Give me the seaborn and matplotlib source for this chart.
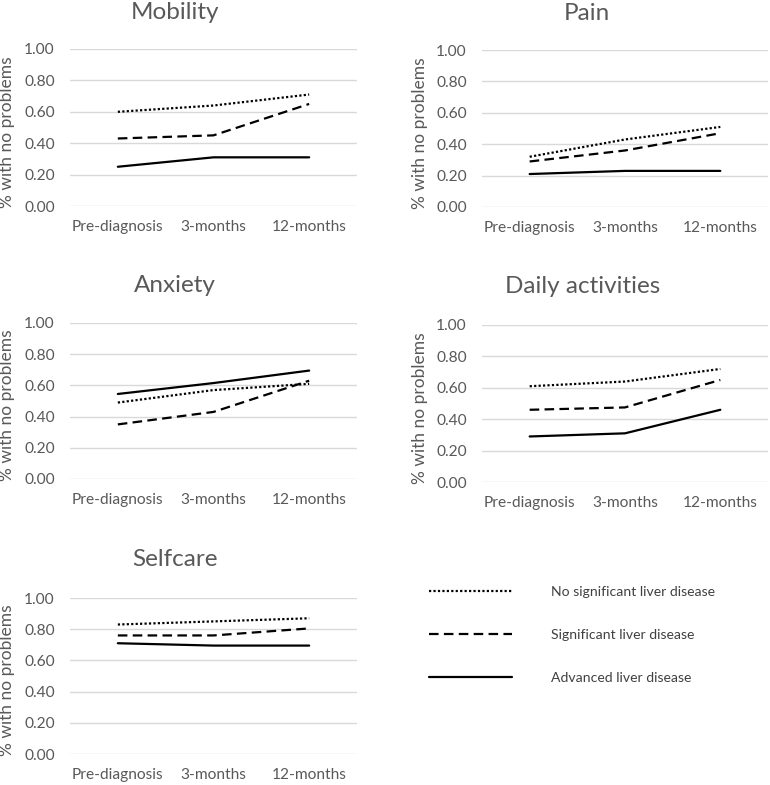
import matplotlib.pyplot as plt
import pandas as pd
import seaborn as sns
from matplotlib.lines import Line2D

# ---------------------------------------------------------------
# data
# ---------------------------------------------------------------
timepoints = ["Pre-diagnosis", "3-months", "12-months"]
groups = ["No significant liver disease", "Significant liver disease", "Advanced liver disease"]

# each domain: [no significant, significant, advanced]
mobility = [[0.60, 0.64, 0.71], [0.43, 0.45, 0.65], [0.25, 0.31, 0.31]]
pain = [[0.32, 0.43, 0.51], [0.29, 0.36, 0.47], [0.21, 0.23, 0.23]]
anxiety = [[0.49, 0.57, 0.61], [0.35, 0.43, 0.63], [0.545, 0.615, 0.695]]
daily = [[0.61, 0.64, 0.72], [0.46, 0.475, 0.65], [0.29, 0.31, 0.46]]
selfcare = [[0.83, 0.85, 0.87], [0.76, 0.76, 0.805], [0.71, 0.695, 0.695]]

yticks = [0.0, 0.2, 0.4, 0.6, 0.8, 1.0]

GRAY = "#595959"
W, H = 770, 785

# panel boxes in pixels: left, right, top, bottom ; title centre x, baseline y ; ylabel right edge x
panels = [
    ("Mobility", mobility, (70, 357, 49, 206), (175, 19), 15),
    ("Pain", pain, (482, 768, 50, 207), (587, 20), 428),
    ("Anxiety", anxiety, (70, 357, 323, 479), (175, 292), 15),
    ("Daily activities", daily, (482, 768, 325, 482), (583, 293), 428),
    ("Selfcare", selfcare, (70, 357, 598, 754), (175, 566), 15),
]

dash_map = {groups[0]: (1, 1), groups[1]: (4.3, 2.4), groups[2]: ""}

sns.set_theme(style="white")
plt.rcParams["font.family"] = ["Lato", "DejaVu Sans"]

fig = plt.figure(figsize=(W / 100, H / 100), dpi=100)


def to_long(values):
    rows = []
    for g, series in zip(groups, values):
        for t, v in zip(timepoints, series):
            rows.append({"Time": t, "Value": v, "Group": g})
    return pd.DataFrame(rows)


for title, values, (l, r, t, b), (tx, ty), lab_x in panels:
    ax = fig.add_axes([l / W, 1 - b / H, (r - l) / W, (b - t) / H])
    sns.lineplot(data=to_long(values), x="Time", y="Value", style="Group",
                 style_order=groups, dashes=dash_map, color="black",
                 linewidth=1.6, sort=False, legend=False, ax=ax)
    ax.set_xlim(-0.5, 2.5)
    ax.set_ylim(0, 1)
    ax.set_yticks(yticks)
    ax.set_yticklabels([f"{v:.2f}" for v in yticks])
    ax.grid(axis="y", color="#d9d9d9", linewidth=1)
    ax.set_axisbelow(True)
    for s in ax.spines.values():
        s.set_visible(False)
    ax.tick_params(axis="both", length=0, labelsize=11.2, labelcolor=GRAY)
    ax.tick_params(axis="y", pad=11)
    ax.tick_params(axis="x", pad=10)
    ax.set_xlabel("")
    ax.set_ylabel("% with no problems", fontsize=12.5, color=GRAY)
    ax.yaxis.set_label_coords((lab_x - l) / (r - l), 0.47)
    fig.text(tx / W, 1 - ty / H, title, ha="center", va="baseline",
             fontsize=17.5, color=GRAY)

handles = [Line2D([], [], color="black", linewidth=1.6, dashes=dash_map[g]) if dash_map[g]
           else Line2D([], [], color="black", linewidth=1.6) for g in groups]
fig.legend(handles=handles, labels=groups, loc="upper left",
           bbox_to_anchor=(429 / W, 1 - 586 / H), frameon=False,
           prop={"family": ["Lato", "DejaVu Sans"], "size": 10.1},
           labelcolor="#404040", handlelength=5.9,
           handletextpad=2.8, labelspacing=2.2, borderpad=0, borderaxespad=0)

plt.savefig("out.png", dpi=100)
